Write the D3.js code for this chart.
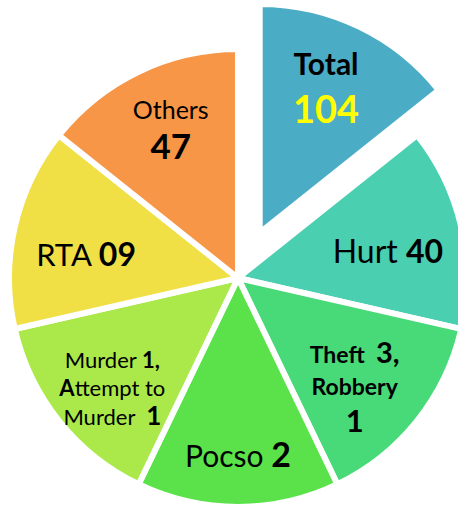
<!DOCTYPE html>
<html>
<head>
<meta charset="utf-8">
<script src="https://cdn.jsdelivr.net/npm/d3@7"></script>
<style>
  body { margin: 0; background: #fff; }
  svg { display: block; font-family: Lato, "Open Sans", sans-serif; }
</style>
</head>
<body>
<div id="pie-chart"></div>
<script>
// slices drawn clockwise from 12 o'clock, all the same size in the original
const categories = ["Total", "Hurt", "Theft, Robbery", "Pocso", "Murder, Attempt to Murder", "RTA", "Others"];
const sliceWeights = [1, 1, 1, 1, 1, 1, 1];
const colors = ["#4BACC6", "#4ACFB0", "#48D978", "#5BE24A", "#ABE94A", "#F0E046", "#F79646"];

// label text, line by line; b = bold
const labelLines = [
    [[["Total", 1]], [["104", 1]]],
    [[["Hurt ", 0], ["40", 1]]],
    [[["Theft  ", 1], ["3,", 1]], [["Robbery", 1]], [["1", 1]]],
    [[["Pocso ", 0], ["2", 1]]],
    [[["Murder ", 0], ["1,", 1]], [["A", 1], ["ttempt to", 0]], [["Murder  ", 0], ["1", 1]]],
    [[["RTA ", 0], ["09", 1]]],
    [[["Others", 0]], [["47", 1]]]
];

const width = 458,
      height = 508,
      cx = 238, cy = 278,
      radius = 229,
      explode = 50;

// font size per line / segment, line spacing and nudges per slice
const layout = [
    { size: [[30], [38]], lh: 45, dx: -4, dy: 0, fill: [["#000"], ["#FFFF00"]] },
    { size: [[32, 32]], lh: 0, dx: -8, dy: 10 },
    { size: [[23, 29], [23], [31]], lh: 34, dx: -10, dy: 8 },
    { size: [[30, 34]], lh: 0, dx: 0, dy: 15 },
    { size: [[22, 22], [22, 22], [22, 26]], lh: 28, dx: 1, dy: 9 },
    { size: [[31, 32]], lh: 0, dx: 6, dy: 13 },
    { size: [[25], [35]], lh: 36, dx: 3, dy: -4 }
];

const data = categories.map((c, i) => ({ cat: c, w: sliceWeights[i], i: i }));

const pie = d3.pie().sort(null).value(d => d.w);
const arcs = pie(data);

const arc = d3.arc().innerRadius(0).outerRadius(radius);
const labelArc = d3.arc().innerRadius(162).outerRadius(162);

let svg = d3.select("#pie-chart")
    .append("svg")
    .attr("width", width)
    .attr("height", height);

let g = svg.append("g")
    .attr("transform", `translate(${cx},${cy})`);

// only the first slice (Total) is pulled out
const offset = d => {
    if (d.index !== 0) return [0, 0];
    const a = (d.startAngle + d.endAngle) / 2;
    return [Math.sin(a) * explode, -Math.cos(a) * explode];
};

let slice = g.selectAll(".slice")
    .data(arcs)
    .join("g")
    .attr("class", "slice")
    .attr("transform", d => `translate(${offset(d)})`);

slice.append("path")
    .attr("d", arc)
    .attr("fill", d => colors[d.index])
    .attr("stroke", "#fff")
    .attr("stroke-width", 6)
    .attr("stroke-linejoin", "miter");

slice.each(function(d) {
    const lines = labelLines[d.index];
    const lay = layout[d.index];
    const [lx, ly] = labelArc.centroid(d);
    const n = lines.length;

    lines.forEach((line, li) => {
        const sizes = lay.size[li];
        const fs = d3.max(sizes);
        let text = d3.select(this).append("text")
            .attr("text-anchor", "middle")
            .attr("x", lx + lay.dx)
            .attr("y", ly + lay.dy + (li - (n - 1) / 2) * lay.lh + 0.36 * fs);
        line.forEach((seg, si) => {
            text.append("tspan")
                .text(seg[0])
                .attr("font-weight", seg[1] ? "bold" : "normal")
                .attr("font-size", sizes[si])
                .attr("fill", lay.fill ? lay.fill[li][si] : "#000")
                .style("white-space", "pre");
        });
    });
});
</script>
</body>
</html>
